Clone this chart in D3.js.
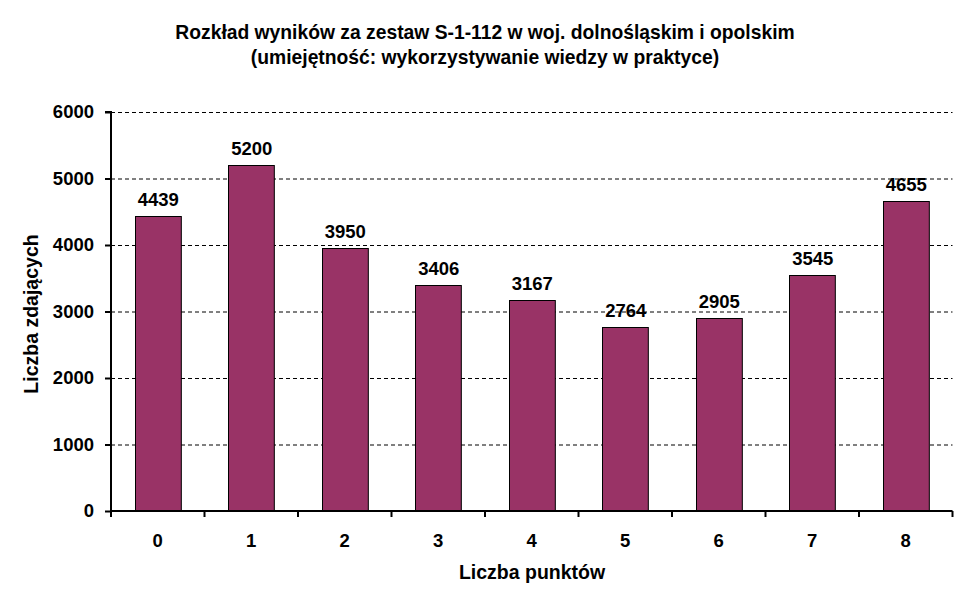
<!DOCTYPE html>
<html><head><meta charset="utf-8">
<script src="https://cdn.jsdelivr.net/npm/d3@7"></script>
<style>body{margin:0;background:#fff}text{font-family:Arial,"Liberation Sans",sans-serif;font-weight:bold;fill:#000}</style>
</head><body><svg id="c" width="970" height="604"></svg>
<script>
const categories = ["0","1","2","3","4","5","6","7","8"];
const values = [4439,5200,3950,3406,3167,2764,2905,3545,4655];
const yTicks = [0,1000,2000,3000,4000,5000,6000];
const titleLines = ["Rozkład wyników za zestaw S-1-112 w woj. dolnośląskim i opolskim","(umiejętność: wykorzystywanie wiedzy w praktyce)"];
const xTitle = "Liczba punktów", yTitle = "Liczba zdających";

const svg = d3.select("#c");
const L=111,R=952.5,T=112,B=511;
const x = d3.scaleBand().domain(categories).range([L,R]).paddingInner(0.51).paddingOuter(0.255);
const y = d3.scaleLinear().domain([0,6000]).range([B,T]);

// gridlines
svg.append("g").selectAll("line").data(yTicks.filter(d=>d>0)).join("line")
 .attr("x1",L).attr("x2",R).attr("y1",d=>y(d)+0.5).attr("y2",d=>y(d)+0.5)
 .attr("stroke","#000").attr("stroke-width",1).attr("stroke-dasharray","4,3");

// bars
svg.append("g").selectAll("rect").data(values).join("rect")
 .attr("x",(d,i)=>Math.round(x(categories[i]))+0.5).attr("y",d=>Math.round(y(d))+0.5)
 .attr("width",x.bandwidth()).attr("height",d=>B-Math.round(y(d)))
 .attr("fill","#993366").attr("stroke","#000").attr("stroke-width",1);

// value labels
svg.append("g").selectAll("text").data(values).join("text")
 .attr("x",(d,i)=>x(categories[i])+x.bandwidth()/2+0.5).attr("y",d=>y(d)-10)
 .attr("text-anchor","middle").attr("font-size","18.5px").text(d=>d);

// y axis
const ya = svg.append("g").attr("transform",`translate(${L},0)`)
 .call(d3.axisLeft(y).tickValues(yTicks).tickSize(6).tickPadding(11).tickFormat(d3.format("d")));
ya.selectAll("text").attr("font-size","18.5px");
ya.selectAll("line,path").attr("stroke","#000").attr("stroke-width",2);
ya.select("path").attr("d",`M-6,${T}H0V${B}`);

// x axis
const xa = svg.append("g").attr("transform",`translate(0,${B})`)
 .call(d3.axisBottom(x).tickSize(0).tickPadding(23));
xa.selectAll("text").attr("font-size","18.5px");
xa.select("path").attr("stroke","#000").attr("stroke-width",2).attr("d",`M${L},0H${R}`);
xa.selectAll(".bt").data(d3.range(categories.length+1)).join("line").attr("class","bt")
 .attr("x1",i=>L+i*x.step()).attr("x2",i=>L+i*x.step()).attr("y1",0).attr("y2",6)
 .attr("stroke","#000").attr("stroke-width",2);

// titles
svg.append("g").selectAll("text").data(titleLines).join("text")
 .attr("x",485).attr("y",(d,i)=>39+i*25).attr("text-anchor","middle").attr("font-size","19.3px").text(d=>d);
svg.append("text").attr("x",532).attr("y",579).attr("text-anchor","middle").attr("font-size","19.5px").text(xTitle);
svg.append("text").attr("transform","translate(38,314) rotate(-90)").attr("text-anchor","middle").attr("font-size","19.5px").text(yTitle);
</script></body></html>
